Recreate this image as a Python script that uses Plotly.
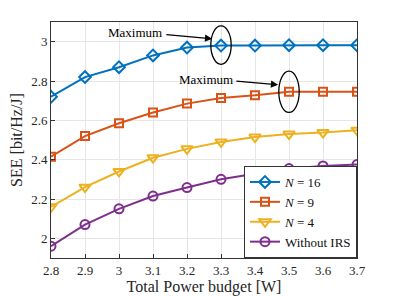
import plotly.graph_objects as go

x = [2.8, 2.9, 3.0, 3.1, 3.2, 3.3, 3.4, 3.5, 3.6, 3.7]
n16 = [2.72, 2.82, 2.87, 2.93, 2.97, 2.98, 2.98, 2.982, 2.982, 2.982]
n9 = [2.415, 2.52, 2.585, 2.64, 2.685, 2.713, 2.727, 2.745, 2.745, 2.745]
n4 = [2.16, 2.26, 2.34, 2.41, 2.455, 2.49, 2.515, 2.53, 2.538, 2.55]
noirs = [1.96, 2.07, 2.15, 2.215, 2.258, 2.30, 2.328, 2.355, 2.368, 2.375]
names = ["<i>N</i> = 16", "<i>N</i> = 9", "<i>N</i> = 4", "Without IRS"]
colors = ["#0072BD", "#D95319", "#EDB120", "#7E2F8E"]
symbols = ["diamond-open", "square-open", "triangle-down-open", "circle-open"]
sizes = [9, 8, 10, 9]

fig = go.Figure()
for ys, nm, c, s, sz in zip([n16, n9, n4, noirs], names, colors, symbols, sizes):
    fig.add_trace(go.Scatter(x=x, y=ys, name=nm, mode="lines+markers",
                             line=dict(color=c, width=2),
                             marker=dict(symbol=s, size=sz, color=c, line=dict(width=2, color=c))))

font = dict(family="Liberation Serif", size=13, color="#262626")
fig.update_layout(
    width=387, height=288, margin=dict(l=43, r=38, t=14, b=38, autoexpand=False),
    paper_bgcolor="white", plot_bgcolor="white", font=font,
    showlegend=True,
    legend=dict(x=1, xanchor="right", y=0, yanchor="bottom", bgcolor="white",
                bordercolor="#333", borderwidth=1, font=dict(family="Liberation Serif", size=13, color="#111"),
                tracegroupgap=0, itemwidth=30),
    xaxis=dict(range=[2.8, 3.7], tickvals=x, ticktext=["2.8", "2.9", "3", "3.1", "3.2", "3.3", "3.4", "3.5", "3.6", "3.7"],
               showgrid=True, gridcolor="#e6e6e6", linecolor="#333", mirror=True, showline=True,
               ticks="inside", ticklen=4, tickcolor="#333", zeroline=False, automargin=False,
               title=dict(text="Total Power budget [W]", standoff=2), tickfont=font),
    yaxis=dict(range=[1.9, 3.1], tickvals=[2, 2.2, 2.4, 2.6, 2.8, 3], ticktext=["2", "2.2", "2.4", "2.6", "2.8", "3"],
               showgrid=True, gridcolor="#e6e6e6", linecolor="#333", mirror=True, showline=True,
               ticks="inside", ticklen=4, tickcolor="#333", zeroline=False, automargin=False,
               title=dict(text="SEE [bit/Hz/J]", standoff=6), tickfont=font),
)

# ellipses
fig.add_shape(type="circle", xref="x", yref="y", x0=3.27, x1=3.33, y0=2.885, y1=3.08,
              line=dict(color="black", width=1.3))
fig.add_shape(type="circle", xref="x", yref="y", x0=3.47, x1=3.53, y0=2.64, y1=2.85,
              line=dict(color="black", width=1.3))
# arrows
fig.add_annotation(x=3.274, y=3.015, ax=3.135, ay=3.036, xref="x", yref="y", axref="x", ayref="y",
                   text="", showarrow=True, arrowhead=2, arrowsize=1.2, arrowwidth=1.2, arrowcolor="black")
fig.add_annotation(x=3.468, y=2.781, ax=3.341, ay=2.80, xref="x", yref="y", axref="x", ayref="y",
                   text="", showarrow=True, arrowhead=2, arrowsize=1.2, arrowwidth=1.2, arrowcolor="black")
fig.add_annotation(x=3.047, y=3.046, xref="x", yref="y", text="Maximum", showarrow=False,
                   font=dict(family="Liberation Serif", size=13, color="black"))
fig.add_annotation(x=3.256, y=2.81, xref="x", yref="y", text="Maximum", showarrow=False,
                   font=dict(family="Liberation Serif", size=13, color="black"))

fig.write_html("out.html")
